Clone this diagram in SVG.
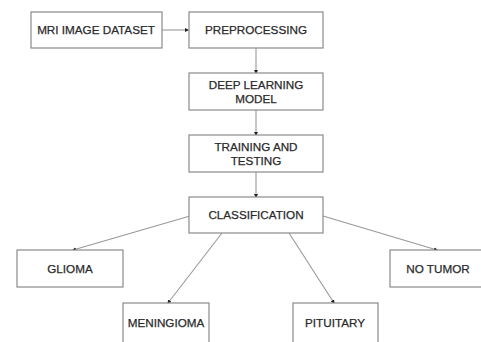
<svg xmlns="http://www.w3.org/2000/svg" width="481" height="342" viewBox="0 0 481 342">
<style>
.box{fill:#fff;stroke:#8a8a8a;stroke-width:1.2}
.lbl{font-family:"Liberation Sans",Arial,sans-serif;font-size:11.7px;fill:#2a2a2a;stroke:#2a2a2a;stroke-width:0.25;text-anchor:middle}
.con{stroke:#999;stroke-width:1.1;fill:none;marker-end:url(#dot)}
</style>
<defs>
<marker id="dot" viewBox="0 0 4 4" refX="3" refY="2" markerWidth="4" markerHeight="4" markerUnits="userSpaceOnUse" orient="auto">
<path d="M0,0 L4,2 L0,4 z" fill="#222"/>
</marker>
</defs>
<rect width="481" height="342" fill="#fff"/>
<g id="connectors">
<line class="con" x1="162" y1="30" x2="188" y2="30"/>
<line class="con" x1="256" y1="48" x2="256" y2="73"/>
<line class="con" x1="256" y1="110" x2="256" y2="135"/>
<line class="con" x1="256" y1="172" x2="256" y2="197"/>
<line class="con" x1="190" y1="216" x2="73" y2="250"/>
<line class="con" x1="222" y1="233" x2="168" y2="303"/>
<line class="con" x1="289" y1="233" x2="334" y2="303"/>
<line class="con" x1="323" y1="216" x2="437" y2="250"/>
</g>
<g id="mri">
<rect class="box" x="31" y="12" width="131" height="36"/>
<text class="lbl" x="96" y="34">MRI IMAGE DATASET</text>
</g>
<g id="preprocessing">
<rect class="box" x="189" y="12" width="134" height="36"/>
<text class="lbl" x="256" y="34">PREPROCESSING</text>
</g>
<g id="deep">
<rect class="box" x="189" y="73" width="134" height="37"/>
<text class="lbl" x="256" y="89">DEEP LEARNING</text>
<text class="lbl" x="256" y="103">MODEL</text>
</g>
<g id="training">
<rect class="box" x="189" y="135" width="134" height="37"/>
<text class="lbl" x="256" y="151">TRAINING AND</text>
<text class="lbl" x="256" y="165">TESTING</text>
</g>
<g id="classification">
<rect class="box" x="189" y="197" width="134" height="36"/>
<text class="lbl" x="256" y="219">CLASSIFICATION</text>
</g>
<g id="glioma">
<rect class="box" x="17" y="250" width="106" height="37"/>
<text class="lbl" x="70" y="273">GLIOMA</text>
</g>
<g id="notumor">
<rect class="box" x="390" y="250" width="96" height="37"/>
<text class="lbl" x="438" y="273">NO TUMOR</text>
</g>
<g id="meningioma">
<rect class="box" x="123" y="303" width="86" height="45"/>
<text class="lbl" x="166" y="327">MENINGIOMA</text>
</g>
<g id="pituitary">
<rect class="box" x="293" y="303" width="85" height="45"/>
<text class="lbl" x="335" y="327">PITUITARY</text>
</g>
</svg>
